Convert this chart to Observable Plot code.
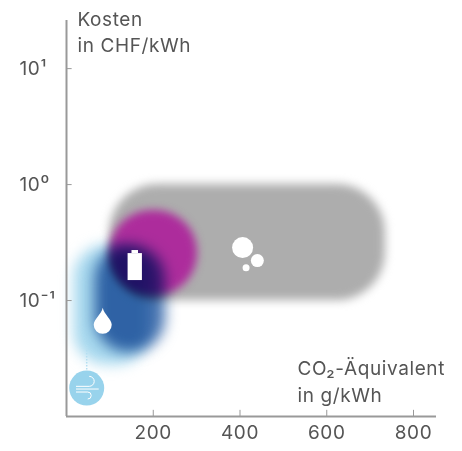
<!DOCTYPE html>
<html><head><meta charset="utf-8">
<script src="https://cdn.jsdelivr.net/npm/d3@7"></script>
<script src="https://cdn.jsdelivr.net/npm/@observablehq/plot@0.6"></script>
<style>html,body{margin:0;padding:0;background:#fff}svg{display:block}</style>
</head><body>
<script>
const xTicks = [200, 400, 600, 800];
const yTicks = [10, 1, 0.1];
const yTickLabels = ["10¹", "10⁰", "10⁻¹"];
const gray = [{x1: 100, x2: 735, y1: 0.1, y2: 1}];
const magenta = [{x1: 100, x2: 302, y1: 0.11, y2: 0.597}];
const lightBlue = [{x1: 18, x2: 190, y1: 0.028, y2: 0.298}];
const blue = [{x1: 66, x2: 228, y1: 0.0356, y2: 0.298}];
const bubbleBig = [{x: 406, y: 0.286}];
const bubbleMid = [{x: 440, y: 0.221}];
const bubbleSmall = [{x: 414, y: 0.192}];
const batteryBody = [{x1: 142, x2: 175, y1: 0.1487, y2: 0.254}];
const batteryCap = [{x1: 151, x2: 166, y1: 0.254, y2: 0.27}];
const drop = [{x: 83.5, y: 0.0646}];
const wind = [{x: 46.6, y: 0.0176}];
const windStem = [{x: 46.6, y1: 0.0176, y2: 0.0409}];
const yTitle = "Kosten\nin CHF/kWh";
const xTitle = "CO₂-Äquivalent\nin g/kWh";

const dropSymbol = {draw(c, size) {
  const r = Math.sqrt(size / Math.PI);
  c.moveTo(0, -1.65 * r);
  c.bezierCurveTo(0.15 * r, -0.9 * r, r, -0.4 * r, r, 0.25 * r);
  c.arc(0, 0.25 * r, r, 0, Math.PI);
  c.bezierCurveTo(-r, -0.4 * r, -0.15 * r, -0.9 * r, 0, -1.65 * r);
  c.closePath();
}};
const windSymbol = {draw(c, size) {
  const k = Math.sqrt(size / Math.PI) / 10.7;
  c.moveTo(-10.7 * k, -1.7 * k); c.lineTo(2.5 * k, -1.7 * k);
  c.arc(2.5 * k, -6.7 * k, 5 * k, Math.PI / 2, -Math.PI / 2, true);
  c.moveTo(-10.7 * k, 1 * k); c.lineTo(12 * k, 1 * k);
  c.moveTo(-10.7 * k, 4 * k); c.lineTo(1 * k, 4 * k);
  c.arc(1 * k, 7.5 * k, 3.5 * k, -Math.PI / 2, Math.PI / 2);
}};
const multiply = (index, scales, values, dims, ctx, next) => {
  const g = next(index, scales, values, dims, ctx);
  g.style.mixBlendMode = "multiply";
  return g;
};

const font = "Inter";
const ink = "#555";
const axisC = "#999";

const chart = Plot.plot({
  width: 462, height: 451,
  marginLeft: 66, marginRight: 26, marginTop: 20, marginBottom: 35,
  style: {background: "#fff", fontFamily: font, letterSpacing: "0.6px"},
  x: {domain: [0, 853], axis: null},
  y: {type: "log", domain: [0.01, 26], axis: null},
  marks: [
    Plot.rect(gray, {x1: "x1", x2: "x2", y1: "y1", y2: "y2", fill: "#adadad", rx: 48, imageFilter: "blur(5px)"}),
    Plot.rect(magenta, {x1: "x1", x2: "x2", y1: "y1", y2: "y2", fill: "#ad2c9c", rx: 42, imageFilter: "blur(4px)"}),
    Plot.rect(lightBlue, {x1: "x1", x2: "x2", y1: "y1", y2: "y2", fill: "#a6d8ee", rx: 32, imageFilter: "blur(7px)", render: multiply}),
    Plot.rect(blue, {x1: "x1", x2: "x2", y1: "y1", y2: "y2", fill: "#4774b1", rx: 34, imageFilter: "blur(7px)", render: multiply}),
    Plot.ruleX(windStem, {x: "x", y1: "y1", y2: "y2", stroke: "#b5dff1", strokeWidth: 1.5, strokeDasharray: "1.5,1.5"}),
    Plot.dot(wind, {x: "x", y: "y", r: 17.5, fill: "#98d3ec"}),
    Plot.dot(wind, {x: "x", y: "y", r: 10.7, symbol: windSymbol, fill: "none", stroke: "#fff", strokeWidth: 1}),
    Plot.dot(bubbleBig, {x: "x", y: "y", r: 10.5, fill: "#fff"}),
    Plot.dot(bubbleMid, {x: "x", y: "y", r: 6.5, fill: "#fff"}),
    Plot.dot(bubbleSmall, {x: "x", y: "y", r: 3.5, fill: "#fff"}),
    Plot.rect(batteryBody, {x1: "x1", x2: "x2", y1: "y1", y2: "y2", fill: "#fff"}),
    Plot.rect(batteryCap, {x1: "x1", x2: "x2", y1: "y1", y2: "y2", fill: "#fff"}),
    Plot.dot(drop, {x: "x", y: "y", r: 9, symbol: dropSymbol, fill: "#fff"}),
    Plot.ruleY([0.01], {stroke: axisC, strokeWidth: 2}),
    Plot.ruleX([0], {stroke: axisC, strokeWidth: 2}),
    Plot.ruleX(xTicks, {y1: 0.01, y2: 0.0113, stroke: axisC, strokeWidth: 1}),
    Plot.ruleY(yTicks, {x1: 0, x2: 13, stroke: axisC, strokeWidth: 1}),
    Plot.text(xTicks, {x: d => d, frameAnchor: "bottom", dy: 22, text: d => String(d), fontSize: 19, fill: ink}),
    Plot.text(yTicks, {y: d => d, frameAnchor: "left", dx: -47, text: (d, i) => yTickLabels[i], fontSize: 19, fill: ink, textAnchor: "start"}),
    Plot.text([yTitle], {frameAnchor: "top-left", dx: 11, dy: -13, text: d => d, fontSize: 19, lineHeight: 1.37, fill: ink, textAnchor: "start", lineAnchor: "top"}),
    Plot.text([xTitle], {frameAnchor: "bottom-left", dx: 231, dy: -15, text: d => d, fontSize: 19, lineHeight: 1.37, fill: ink, textAnchor: "start", lineAnchor: "bottom"})
  ]
});
document.body.appendChild(chart);
</script>
</body></html>
